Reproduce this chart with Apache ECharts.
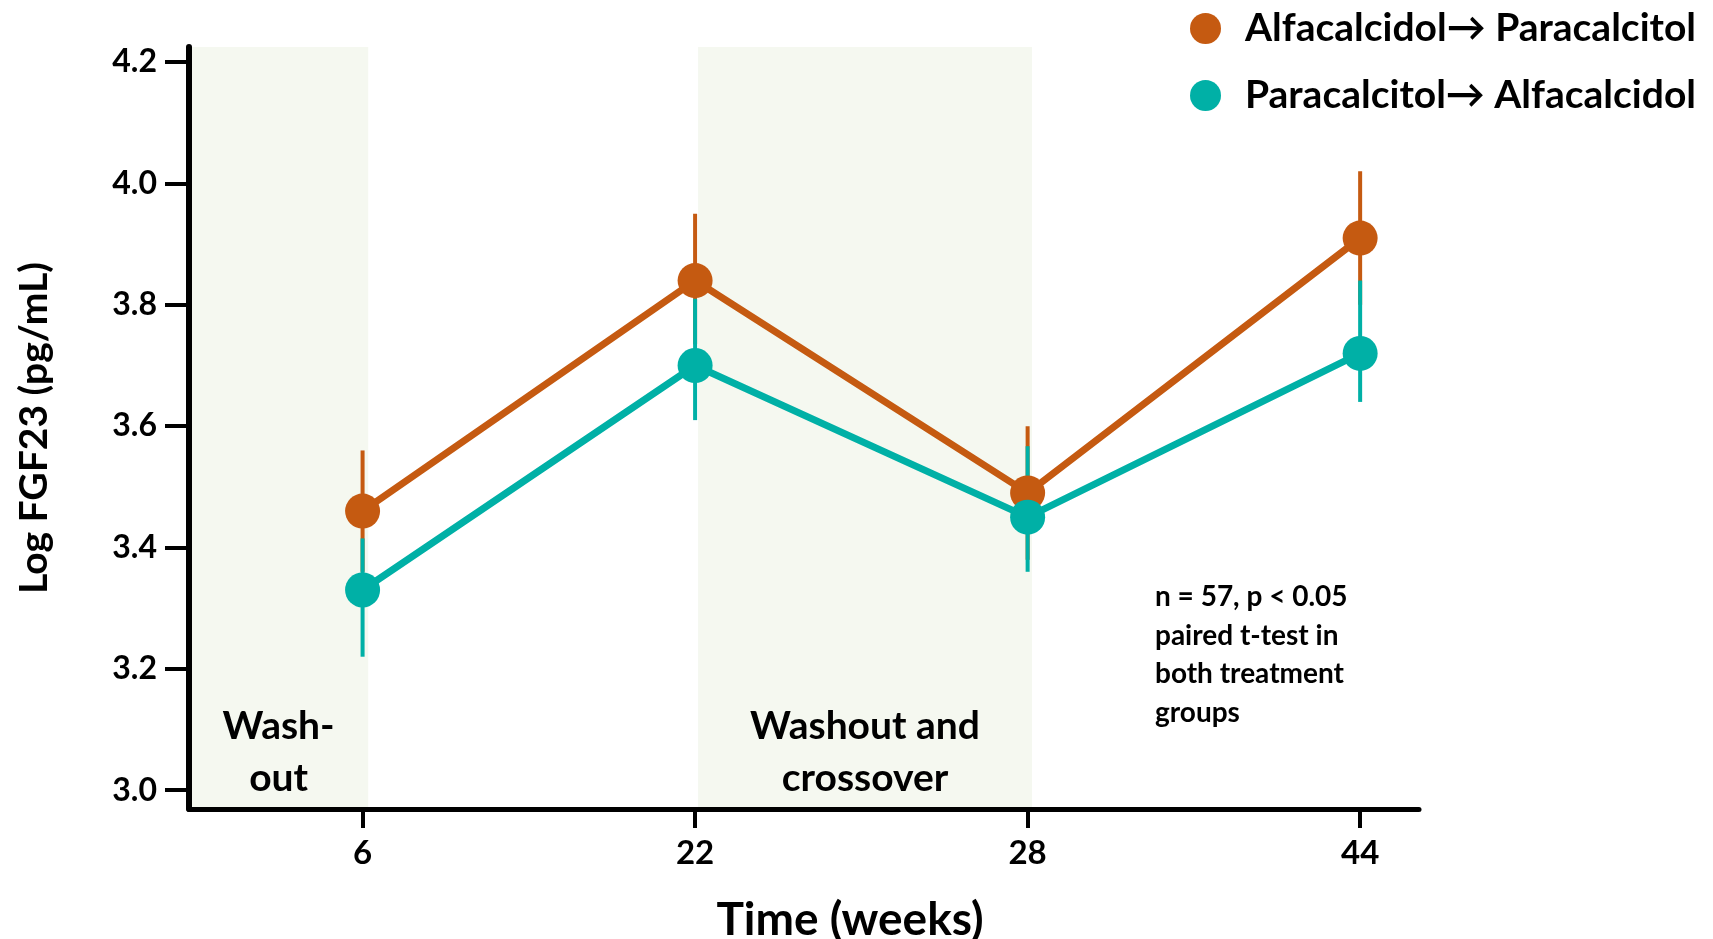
<!DOCTYPE html>
<html>
<head>
<meta charset="utf-8">
<script src="https://cdn.jsdelivr.net/npm/echarts@6/dist/echarts.min.js"></script>
<style>
html,body{margin:0;padding:0;background:#fff;}
#chart{width:1713px;height:939px;}
</style>
</head>
<body>
<div id="chart"></div>
<script>
// ---- data ----
const categories = ['6', '22', '28', '44'];
const seriesNames = ['Alfacalcidol\u2192 Paracalcitol', 'Paracalcitol\u2192 Alfacalcidol'];
const alfaParaMean  = [3.46, 3.84, 3.49, 3.91];
const alfaParaUpper = [3.56, 3.95, 3.60, 4.02];
const alfaParaLower = [3.36, 3.735, 3.38, 3.80];
const paraAlfaMean  = [3.33, 3.70, 3.45, 3.72];
const paraAlfaUpper = [3.415, 3.81, 3.567, 3.84];
const paraAlfaLower = [3.22, 3.61, 3.36, 3.64];
const yTicks = [3.0, 3.2, 3.4, 3.6, 3.8, 4.0, 4.2];
const xTickIdx = [0, 1, 2, 3];
const bandLabels = ['Wash-\nout', 'Washout and\ncrossover'];
const bandStarts = [-0.522, 1.009];
const bandEnds = [0.017, 2.013];
const noteText = 'n = 57, p < 0.05\npaired t-test in\nboth treatment\ngroups';

// ---- style ----
const FONT = 'Lato, "Open Sans", sans-serif';
const ORANGE = '#C55A11';
const TEAL = '#00B0A6';
const X_MIN = -0.522, X_MAX = 3.177;
const Y_MIN = 2.969, Y_MAX = 4.225;

const chart = echarts.init(document.getElementById('chart'));

function errSeries(name, color, lower, upper) {
  return {
    type: 'custom',
    name: name + ' err',
    z: 1,
    silent: true,
    renderItem: function (params, api) {
      const x = api.value(0);
      const lo = api.coord([x, api.value(1)]);
      const hi = api.coord([x, api.value(2)]);
      return {
        type: 'line',
        shape: { x1: lo[0], y1: lo[1], x2: hi[0], y2: hi[1] },
        style: { stroke: color, lineWidth: 4 }
      };
    },
    data: categories.map((c, i) => [i, lower[i], upper[i]])
  };
}

function lineSeries(name, color, mean, z) {
  return {
    type: 'line',
    name: name,
    z: z,
    data: mean.map((v, i) => [i, v]),
    symbol: 'circle',
    symbolSize: 35,
    lineStyle: { color: color, width: 7 },
    itemStyle: { color: color },
    emphasis: { disabled: true },
    silent: true
  };
}

const option = {
  animation: false,
  backgroundColor: '#fff',
  textStyle: { fontFamily: FONT },
  grid: { left: 189, right: 294, top: 47, bottom: 130, containLabel: false, outerBoundsMode: 'none' },
  legend: {
    data: seriesNames,
    orient: 'vertical',
    left: 1185,
    top: 4,
    icon: 'circle',
    itemWidth: 31,
    itemHeight: 31,
    itemGap: 28,
    selectedMode: false,
    textStyle: { fontFamily: FONT, fontSize: 39, fontWeight: 'bold', color: '#000', padding: [0, 0, 0, 19] }
  },
  xAxis: {
    type: 'value',
    z: 10,
    min: X_MIN,
    max: X_MAX,
    name: 'Time (weeks)',
    nameLocation: 'middle',
    nameGap: 88,
    nameTextStyle: { fontFamily: FONT, fontSize: 46, fontWeight: 'bold', color: '#000', padding: [0, 0, 0, 92] },
    axisLine: { onZero: false, lineStyle: { color: '#000', width: 5 } },
    axisTick: { customValues: xTickIdx, length: 19, lineStyle: { color: '#000', width: 4 } },
    axisLabel: {
      customValues: xTickIdx,
      formatter: v => categories[Math.round(v)],
      fontFamily: FONT, fontSize: 33, fontWeight: 'bold', color: '#000', margin: 28
    },
    splitLine: { show: false }
  },
  yAxis: {
    type: 'value',
    z: 10,
    min: Y_MIN,
    max: Y_MAX,
    name: 'Log FGF23 (pg/mL)',
    nameLocation: 'middle',
    nameRotate: 90,
    nameGap: 135,
    nameTextStyle: { fontFamily: FONT, fontSize: 39, fontWeight: 'bold', color: '#000' },
    axisLine: { onZero: false, lineStyle: { color: '#000', width: 6 } },
    axisTick: { customValues: yTicks, length: 24, lineStyle: { color: '#000', width: 4 } },
    axisLabel: {
      customValues: yTicks,
      formatter: v => v.toFixed(1),
      fontFamily: FONT, fontSize: 32, fontWeight: 'bold', color: '#000', margin: 32
    },
    splitLine: { show: false }
  },
  graphic: [{
    type: 'text',
    left: 1155,
    top: 578,
    style: { text: noteText, font: 'bold 28px ' + FONT, lineHeight: 38.5, fill: '#000' }
  }],
  series: [
    {
      type: 'custom',
      name: 'bands',
      z: 0,
      silent: true,
      renderItem: function () { return null; },
      data: [],
      markArea: {
        silent: true,
        itemStyle: { color: '#F5F8F0' },
        label: {
          show: true,
          position: 'insideBottom',
          distance: 5,
          fontFamily: FONT, fontSize: 39, fontWeight: 'bold', color: '#000', lineHeight: 52, align: 'center'
        },
        data: bandLabels.map((t, i) => [
          { xAxis: bandStarts[i], name: t },
          { xAxis: bandEnds[i] }
        ])
      }
    },
    errSeries(seriesNames[0], ORANGE, alfaParaLower, alfaParaUpper),
    errSeries(seriesNames[1], TEAL, paraAlfaLower, paraAlfaUpper),
    lineSeries(seriesNames[0], ORANGE, alfaParaMean, 2),
    lineSeries(seriesNames[1], TEAL, paraAlfaMean, 3)
  ]
};
chart.setOption(option);
</script>
</body>
</html>
